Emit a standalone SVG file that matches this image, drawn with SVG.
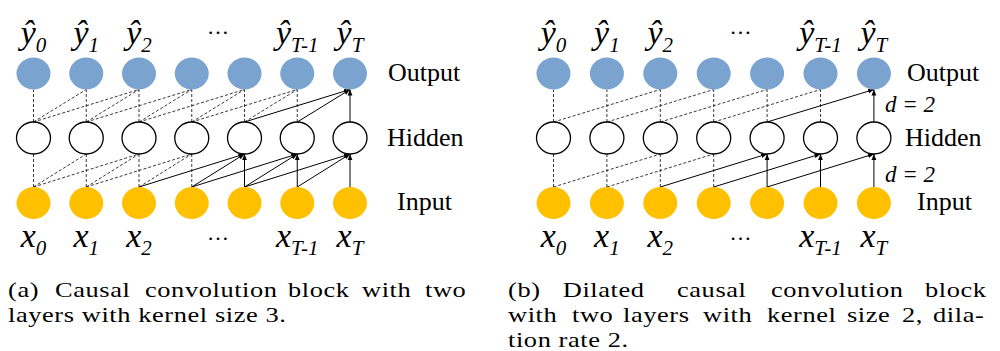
<svg xmlns="http://www.w3.org/2000/svg" width="1000" height="351" viewBox="0 0 1000 351">
<style>
.out{fill:#7AA3CF;stroke:none}
.inp{fill:#FFC000;stroke:none}
.hid{fill:#fff;stroke:#000;stroke-width:1.3}
.dash{fill:none;stroke:#222;stroke-width:0.9;stroke-dasharray:3 2}
.solid{stroke:#000;stroke-width:1;marker-end:url(#arr)}
.math{font-family:"Liberation Serif","Times New Roman",serif;font-style:italic;font-size:34px;fill:#000;text-anchor:middle}
.sub{font-size:21px}
.dots{font-family:"Liberation Serif","Times New Roman",serif;font-size:22px;fill:#000;text-anchor:middle}
.row{font-family:"Liberation Serif","Times New Roman",serif;font-size:26px;fill:#000}
.dl{font-family:"Liberation Serif","Times New Roman",serif;font-style:italic;font-size:23px;fill:#000}
.cap{font-family:"Liberation Serif","Times New Roman",serif;font-size:22px;letter-spacing:0.5px;fill:#000}
</style>
<defs>
<marker id="arr" markerWidth="7" markerHeight="6" refX="6" refY="3" orient="auto" markerUnits="userSpaceOnUse"><path d="M0,0.6 L6,3 L0,5.4 z" fill="#000"/></marker>
</defs>

<!-- ===== (a) connectors ===== -->
<g id="connectors-a">
<path class="dash" d="M33.5,122 L33.5,89.5 M86.25,122 L86.25,89.5 M33.5,122 L86.25,89.5 M139,122 L139,89.5 M86.25,122 L139,89.5 M33.5,122 L139,89.5 M191.75,122 L191.75,89.5 M139,122 L191.75,89.5 M86.25,122 L191.75,89.5 M244.5,122 L244.5,89.5 M191.75,122 L244.5,89.5 M139,122 L244.5,89.5 M297.25,122 L297.25,89.5 M244.5,122 L297.25,89.5 M191.75,122 L297.25,89.5"/>
<path class="dash" d="M33.5,187 L33.5,154 M86.25,187 L86.25,154 M33.5,187 L86.25,154 M139,187 L139,154 M86.25,187 L139,154 M33.5,187 L139,154 M191.75,187 L191.75,154 M139,187 L191.75,154 M86.25,187 L191.75,154"/>
<line class="solid" x1="350" y1="122" x2="350" y2="89.5"/>
<line class="solid" x1="297.25" y1="122" x2="350" y2="89.5"/>
<line class="solid" x1="244.5" y1="122" x2="350" y2="89.5"/>
<line class="solid" x1="244.5" y1="187" x2="244.5" y2="154"/>
<line class="solid" x1="191.75" y1="187" x2="244.5" y2="154"/>
<line class="solid" x1="139" y1="187" x2="244.5" y2="154"/>
<line class="solid" x1="297.25" y1="187" x2="297.25" y2="154"/>
<line class="solid" x1="244.5" y1="187" x2="297.25" y2="154"/>
<line class="solid" x1="191.75" y1="187" x2="297.25" y2="154"/>
<line class="solid" x1="350" y1="187" x2="350" y2="154"/>
<line class="solid" x1="297.25" y1="187" x2="350" y2="154"/>
<line class="solid" x1="244.5" y1="187" x2="350" y2="154"/>
</g>

<!-- ===== (a) nodes ===== -->
<g id="a-out0"><ellipse class="out" cx="33.5" cy="73.5" rx="17" ry="16"/><text class="math" x="33.5" y="44">ŷ<tspan class="sub" dy="8">0</tspan></text></g>
<g id="a-out1"><ellipse class="out" cx="86.25" cy="73.5" rx="17" ry="16"/><text class="math" x="86.25" y="44">ŷ<tspan class="sub" dy="8">1</tspan></text></g>
<g id="a-out2"><ellipse class="out" cx="139" cy="73.5" rx="17" ry="16"/><text class="math" x="139" y="44">ŷ<tspan class="sub" dy="8">2</tspan></text></g>
<g id="a-out3"><ellipse class="out" cx="191.75" cy="73.5" rx="17" ry="16"/></g>
<g id="a-out4"><ellipse class="out" cx="244.5" cy="73.5" rx="17" ry="16"/></g>
<g id="a-out5"><ellipse class="out" cx="297.25" cy="73.5" rx="17" ry="16"/><text class="math" x="297.25" y="44">ŷ<tspan class="sub" dy="8">T-1</tspan></text></g>
<g id="a-out6"><ellipse class="out" cx="350" cy="73.5" rx="17" ry="16"/><text class="math" x="350" y="44">ŷ<tspan class="sub" dy="8">T</tspan></text></g>

<g id="a-hid0"><ellipse class="hid" cx="33.5" cy="138" rx="17" ry="16"/></g>
<g id="a-hid1"><ellipse class="hid" cx="86.25" cy="138" rx="17" ry="16"/></g>
<g id="a-hid2"><ellipse class="hid" cx="139" cy="138" rx="17" ry="16"/></g>
<g id="a-hid3"><ellipse class="hid" cx="191.75" cy="138" rx="17" ry="16"/></g>
<g id="a-hid4"><ellipse class="hid" cx="244.5" cy="138" rx="17" ry="16"/></g>
<g id="a-hid5"><ellipse class="hid" cx="297.25" cy="138" rx="17" ry="16"/></g>
<g id="a-hid6"><ellipse class="hid" cx="350" cy="138" rx="17" ry="16"/></g>

<g id="a-in0"><ellipse class="inp" cx="33.5" cy="203" rx="17" ry="16"/><text class="math" x="33.5" y="246.7">x<tspan class="sub" dy="8">0</tspan></text></g>
<g id="a-in1"><ellipse class="inp" cx="86.25" cy="203" rx="17" ry="16"/><text class="math" x="86.25" y="246.7">x<tspan class="sub" dy="8">1</tspan></text></g>
<g id="a-in2"><ellipse class="inp" cx="139" cy="203" rx="17" ry="16"/><text class="math" x="139" y="246.7">x<tspan class="sub" dy="8">2</tspan></text></g>
<g id="a-in3"><ellipse class="inp" cx="191.75" cy="203" rx="17" ry="16"/></g>
<g id="a-in4"><ellipse class="inp" cx="244.5" cy="203" rx="17" ry="16"/></g>
<g id="a-in5"><ellipse class="inp" cx="297.25" cy="203" rx="17" ry="16"/><text class="math" x="297.25" y="246.7">x<tspan class="sub" dy="8">T-1</tspan></text></g>
<g id="a-in6"><ellipse class="inp" cx="350" cy="203" rx="17" ry="16"/><text class="math" x="350" y="246.7">x<tspan class="sub" dy="8">T</tspan></text></g>

<g id="a-labels">
<text class="dots" x="218" y="34">…</text>
<text class="dots" x="218" y="240">…</text>
<text class="row" x="388" y="80.5">Output</text>
<text class="row" x="387" y="146">Hidden</text>
<text class="row" x="397" y="209.5">Input</text>
</g>

<!-- ===== (b) connectors ===== -->
<g id="connectors-b">
<path class="dash" d="M553.5,122 L553.5,89.5 M606.9,122 L606.9,89.5 M660.3,122 L660.3,89.5 M713.7,122 L713.7,89.5 M767.1,122 L767.1,89.5 M820.5,122 L820.5,89.5 M553.5,122 L660.3,89.5 M606.9,122 L713.7,89.5 M660.3,122 L767.1,89.5 M713.7,122 L820.5,89.5"/>
<path class="dash" d="M553.5,187 L553.5,154 M606.9,187 L606.9,154 M660.3,187 L660.3,154 M713.7,187 L713.7,154 M553.5,187 L660.3,154 M606.9,187 L713.7,154"/>
<line class="solid" x1="767.1" y1="122" x2="873.9" y2="89.5"/>
<line class="solid" x1="873.9" y1="122" x2="873.9" y2="89.5"/>
<line class="solid" x1="767.1" y1="187" x2="767.1" y2="154"/>
<line class="solid" x1="820.5" y1="187" x2="820.5" y2="154"/>
<line class="solid" x1="873.9" y1="187" x2="873.9" y2="154"/>
<line class="solid" x1="660.3" y1="187" x2="767.1" y2="154"/>
<line class="solid" x1="713.7" y1="187" x2="820.5" y2="154"/>
<line class="solid" x1="767.1" y1="187" x2="873.9" y2="154"/>
</g>

<!-- ===== (b) nodes ===== -->
<g id="b-out0"><ellipse class="out" cx="553.5" cy="73.5" rx="17" ry="16"/><text class="math" x="553.5" y="44">ŷ<tspan class="sub" dy="8">0</tspan></text></g>
<g id="b-out1"><ellipse class="out" cx="606.9" cy="73.5" rx="17" ry="16"/><text class="math" x="606.9" y="44">ŷ<tspan class="sub" dy="8">1</tspan></text></g>
<g id="b-out2"><ellipse class="out" cx="660.3" cy="73.5" rx="17" ry="16"/><text class="math" x="660.3" y="44">ŷ<tspan class="sub" dy="8">2</tspan></text></g>
<g id="b-out3"><ellipse class="out" cx="713.7" cy="73.5" rx="17" ry="16"/></g>
<g id="b-out4"><ellipse class="out" cx="767.1" cy="73.5" rx="17" ry="16"/></g>
<g id="b-out5"><ellipse class="out" cx="820.5" cy="73.5" rx="17" ry="16"/><text class="math" x="820.5" y="44">ŷ<tspan class="sub" dy="8">T-1</tspan></text></g>
<g id="b-out6"><ellipse class="out" cx="873.9" cy="73.5" rx="17" ry="16"/><text class="math" x="873.9" y="44">ŷ<tspan class="sub" dy="8">T</tspan></text></g>

<g id="b-hid0"><ellipse class="hid" cx="553.5" cy="138" rx="17" ry="16"/></g>
<g id="b-hid1"><ellipse class="hid" cx="606.9" cy="138" rx="17" ry="16"/></g>
<g id="b-hid2"><ellipse class="hid" cx="660.3" cy="138" rx="17" ry="16"/></g>
<g id="b-hid3"><ellipse class="hid" cx="713.7" cy="138" rx="17" ry="16"/></g>
<g id="b-hid4"><ellipse class="hid" cx="767.1" cy="138" rx="17" ry="16"/></g>
<g id="b-hid5"><ellipse class="hid" cx="820.5" cy="138" rx="17" ry="16"/></g>
<g id="b-hid6"><ellipse class="hid" cx="873.9" cy="138" rx="17" ry="16"/></g>

<g id="b-in0"><ellipse class="inp" cx="553.5" cy="203" rx="17" ry="16"/><text class="math" x="553.5" y="246.7">x<tspan class="sub" dy="8">0</tspan></text></g>
<g id="b-in1"><ellipse class="inp" cx="606.9" cy="203" rx="17" ry="16"/><text class="math" x="606.9" y="246.7">x<tspan class="sub" dy="8">1</tspan></text></g>
<g id="b-in2"><ellipse class="inp" cx="660.3" cy="203" rx="17" ry="16"/><text class="math" x="660.3" y="246.7">x<tspan class="sub" dy="8">2</tspan></text></g>
<g id="b-in3"><ellipse class="inp" cx="713.7" cy="203" rx="17" ry="16"/></g>
<g id="b-in4"><ellipse class="inp" cx="767.1" cy="203" rx="17" ry="16"/></g>
<g id="b-in5"><ellipse class="inp" cx="820.5" cy="203" rx="17" ry="16"/><text class="math" x="820.5" y="246.7">x<tspan class="sub" dy="8">T-1</tspan></text></g>
<g id="b-in6"><ellipse class="inp" cx="873.9" cy="203" rx="17" ry="16"/><text class="math" x="873.9" y="246.7">x<tspan class="sub" dy="8">T</tspan></text></g>

<g id="b-labels">
<text class="dots" x="740.4" y="34">…</text>
<text class="dots" x="740.4" y="240">…</text>
<text class="row" x="907" y="80.5">Output</text>
<text class="row" x="905" y="146">Hidden</text>
<text class="row" x="917" y="209.5">Input</text>
<text class="dl" x="885" y="111.7">d = 2</text>
<text class="dl" x="885" y="181.7">d = 2</text>
</g>

<!-- ===== captions ===== -->
<g id="caption-a" transform="scale(1.2,1)">
<text class="cap" y="297"><tspan x="6.67">(a)</tspan><tspan x="45.83">Causal</tspan><tspan x="120.83">convolution</tspan><tspan x="240">block</tspan><tspan x="301.67">with</tspan><tspan x="354.17">two</tspan></text>
<text class="cap" x="6.67" y="322">layers with kernel size 3.</text>
</g>
<g id="caption-b" transform="scale(1.2,1)">
<text class="cap" y="297"><tspan x="423.33">(b)</tspan><tspan x="469">Dilated</tspan><tspan x="564.17">causal</tspan><tspan x="642.5">convolution</tspan><tspan x="770.83">block</tspan></text>
<text class="cap" y="322"><tspan x="423.33">with</tspan><tspan x="476.67">two</tspan><tspan x="519.17">layers</tspan><tspan x="585.83">with</tspan><tspan x="639.17">kernel</tspan><tspan x="705.83">size</tspan><tspan x="751.67">2,</tspan><tspan x="777.5">dila-</tspan></text>
<text class="cap" x="423.33" y="347">tion rate 2.</text>
</g>
</svg>
